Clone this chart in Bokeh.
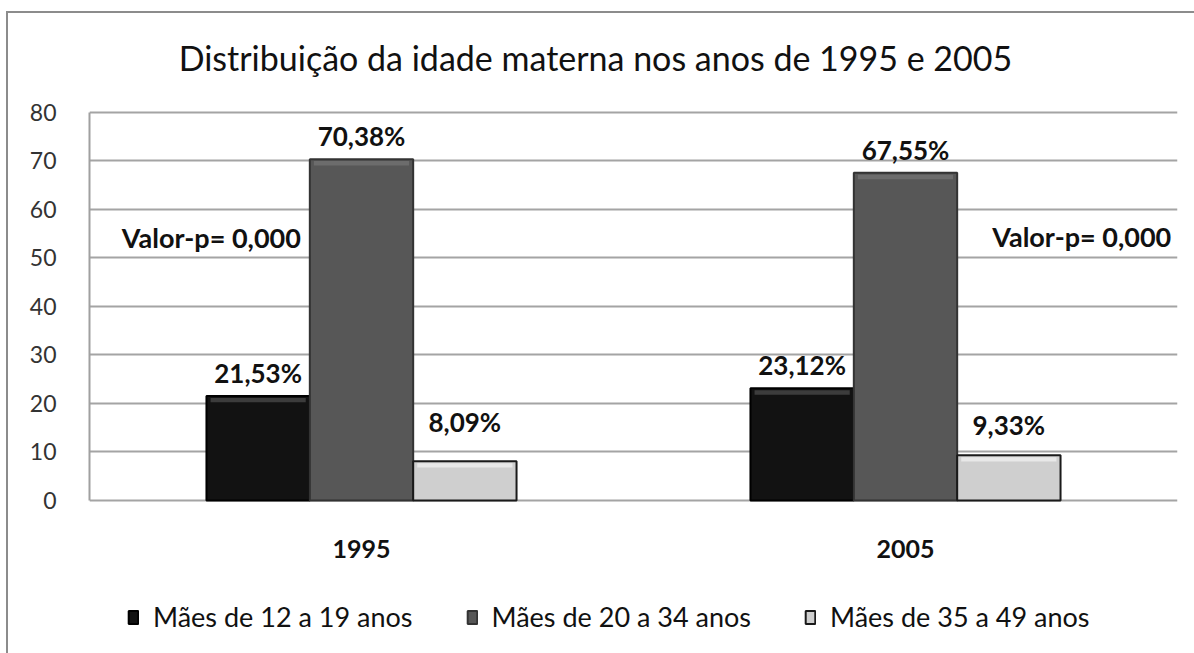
from bokeh.plotting import figure
from bokeh.models import ColumnDataSource, FactorRange, Legend, LegendItem, Label, LabelSet, FixedTicker
from bokeh.core.properties import value
from bokeh.transform import dodge
from bokeh.embed import file_html
from bokeh.resources import INLINE

years = ["1995", "2005"]
series = ["Mães de 12 a 19 anos", "Mães de 20 a 34 anos", "Mães de 35 a 49 anos"]
v_12_19 = [21.53, 23.12]
v_20_34 = [70.38, 67.55]
v_35_49 = [8.09, 9.33]
labels_12_19 = ["21,53%", "23,12%"]
labels_20_34 = ["70,38%", "67,55%"]
labels_35_49 = ["8,09%", "9,33%"]
pvalue_text = "Valor-p= 0,000"
title_text = "Distribuição da idade materna nos anos de 1995 e 2005"
y_ticks = [0, 10, 20, 30, 40, 50, 60, 70, 80]

FONT = "Lato"
TXT = "#111111"

# frame spans the full figure height; y range chosen so that 0..80 sits where the reference draws it
p = figure(x_range=FactorRange(*years, range_padding=0), y_range=(-31.55, 103.09),
           width=1194, height=653, output_backend="svg", toolbar_location=None,
           min_border_left=89, min_border_right=17, min_border_top=0, min_border_bottom=0)
p.styles = {
    "background": "linear-gradient(#8c8c8c,#8c8c8c) 6px 11px / 2px 100% no-repeat, "
                  "linear-gradient(#8c8c8c,#8c8c8c) 6px 11px / 100% 2px no-repeat, white"
}
p.background_fill_color = None
p.border_fill_color = None
p.outline_line_color = None

fills = ["#121212", "#575757", "#cfcfcf"]
bevels = ["#3c3c3c", "#6c6c6c", "#e8e8e8"]
lines = ["#000000", "#333333", "#1a1a1a"]
offsets = [-0.19, 0.0, 0.19]
vals = [v_12_19, v_20_34, v_35_49]
labs = [labels_12_19, labels_20_34, labels_35_49]
label_dy = [[23, 23], [23, 23], [39, 30]]
BEVEL = 1.3

items = []
for name, v, lab, fc, bc, lc, off, dy in zip(series, vals, labs, fills, bevels, lines, offsets, label_dy):
    src = ColumnDataSource(dict(x=years, top=v, lab=lab, dy=dy,
                                btop=[t - 0.4 for t in v], bbot=[t - BEVEL for t in v]))
    r = p.vbar(x=dodge("x", off, range=p.x_range), top="top", width=0.19, source=src,
               fill_color=fc, line_color=lc, line_width=2)
    p.vbar(x=dodge("x", off, range=p.x_range), top="btop", bottom="bbot", width=0.175, source=src,
           fill_color=bc, line_color=None)
    items.append(LegendItem(label=name, renderers=[r]))
    ls = LabelSet(x=dodge("x", off, range=p.x_range), y="top", text="lab", source=src,
                  text_align="center", text_baseline="middle", y_offset="dy",
                  text_font=value(FONT), text_font_size="26px", text_font_style="bold", text_color=TXT)
    p.add_layout(ls)

# title
p.add_layout(Label(x=0.93, y=91.3, text=title_text, text_align="center", text_baseline="middle",
                   text_font=FONT, text_font_size="34px", text_color=TXT))

# category labels under the bars
xsrc = ColumnDataSource(dict(x=years, y=[-10.1, -10.1], t=years))
p.text(x="x", y="y", text="t", source=xsrc, text_align="center", text_baseline="middle",
       text_font=value(FONT), text_font_size="25px", text_font_style="bold", text_color=TXT)

p.add_layout(Label(x=0.224, y=54.2, text=pvalue_text, text_align="center", text_baseline="middle",
                   text_font=FONT, text_font_size="27px", text_font_style="bold", text_color=TXT))
p.add_layout(Label(x=1.824, y=54.4, text=pvalue_text, text_align="center", text_baseline="middle",
                   text_font=FONT, text_font_size="27px", text_font_style="bold", text_color=TXT))

p.xaxis.visible = False
p.yaxis.ticker = FixedTicker(ticks=y_ticks)
p.yaxis.bounds = (0, 80)
p.yaxis.major_tick_line_color = None
p.yaxis.minor_tick_line_color = None
p.yaxis.axis_line_color = "#a0a0a0"
p.yaxis.axis_line_width = 2
p.yaxis.major_label_text_font = FONT
p.yaxis.major_label_text_font_size = "23px"
p.yaxis.major_label_text_color = "#333333"
p.yaxis.major_label_standoff = 27

p.xgrid.grid_line_color = None
p.ygrid.grid_line_color = "#a4a4a4"
p.ygrid.grid_line_width = 2

legend = Legend(items=items, orientation="horizontal", location=(38, 20),
                glyph_width=12, glyph_height=16, label_standoff=14, spacing=53,
                label_text_font=FONT, label_text_font_size="27px", label_text_color=TXT,
                border_line_color=None, background_fill_alpha=0, margin=0, padding=4)
p.add_layout(legend, "center")

open("out.html", "w").write(file_html(p, INLINE))
